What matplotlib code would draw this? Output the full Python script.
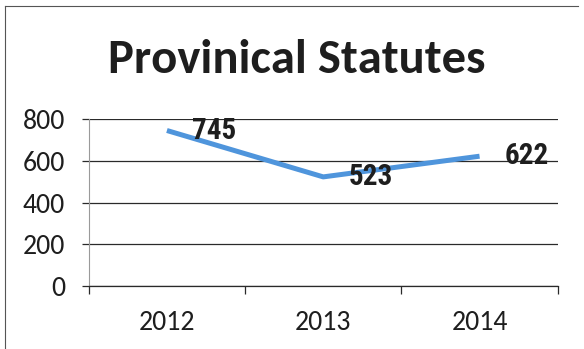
import matplotlib
matplotlib.use('Agg')
import matplotlib.pyplot as plt
from matplotlib.lines import Line2D

# Statute counts per year
years = ['2012', '2013', '2014']
statutes = [745, 523, 622]
y_ticks = [0, 200, 400, 600, 800]

LINE = '#4F95DC'
GRID = '#2A2A2A'
TEXT = '#1E1E1E'

fig = plt.figure(figsize=(5.84, 3.49), dpi=100, facecolor='white')
ax = fig.add_axes([0.152, 0.18, 0.803, 0.479])

x = list(range(len(years)))
ax.plot(x, statutes, color=LINE, linewidth=3.6, solid_capstyle='butt', zorder=3)

# value labels to the right of each point
for xi, v in zip(x, statutes):
    ax.annotate(str(v), (xi, v), xytext=(18, 0), textcoords='offset points',
                ha='left', va='center', fontsize=21, fontweight='bold',
                family=['Roboto Condensed', 'DejaVu Sans'],
                color=TEXT, zorder=4)

ax.set_xlim(-0.5, len(years) - 0.5)
ax.set_ylim(0, 800)
ax.set_yticks(y_ticks)
ax.set_xticks(x)
ax.set_xticklabels(years)
ax.set_xticks([i - 0.5 for i in range(len(years) + 1)], minor=True)

ax.grid(axis='y', color=GRID, linewidth=0.9, zorder=1)
for s in ['top', 'right']:
    ax.spines[s].set_visible(False)
ax.spines['left'].set_color('#9A9A9A')
ax.spines['left'].set_linewidth(0.8)
ax.spines['bottom'].set_color(GRID)
ax.spines['bottom'].set_linewidth(0.9)

ax.tick_params(axis='x', which='major', length=0, pad=17, labelsize=20, labelcolor=TEXT)
ax.tick_params(axis='x', which='minor', length=6, color=GRID, width=0.9)
ax.tick_params(axis='y', length=5, color=GRID, width=0.9, pad=12, labelsize=20, labelcolor=TEXT)
for lab in ax.get_xticklabels() + ax.get_yticklabels():
    lab.set_family(['Carlito', 'DejaVu Sans'])

fig.text(0.508, 0.828, 'Provinical Statutes', ha='center', va='center',
         fontsize=35, fontweight='bold', family=['Carlito', 'DejaVu Sans'], color=TEXT)

# outer chart frame (top and left edges)
fig.add_artist(Line2D([0.009, 0.99], [0.983, 0.983], color='#555555', linewidth=0.8))
fig.add_artist(Line2D([0.009, 0.009], [0.0, 0.983], color='#555555', linewidth=0.8))

fig.savefig('out.png', dpi=100, facecolor='white')
